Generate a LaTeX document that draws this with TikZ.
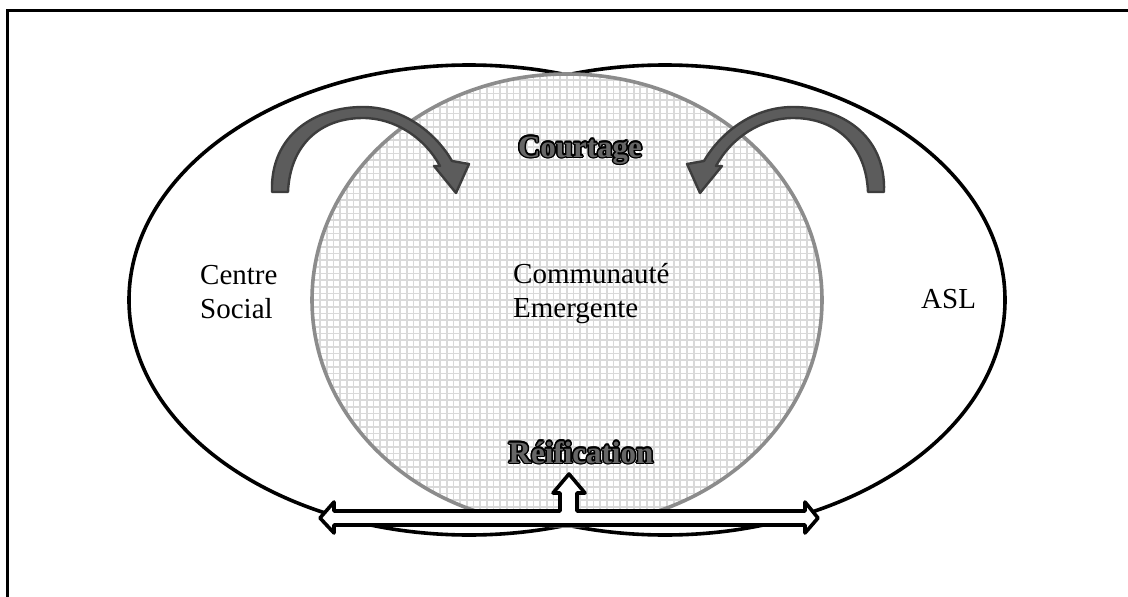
\documentclass[tikz,border=0pt]{standalone}
\usepackage{fontspec}
\setmainfont{Liberation Serif}
\usetikzlibrary{calc}
\definecolor{ringgrey}{gray}{0.55}
\definecolor{meshgrey}{gray}{0.85}
\definecolor{bendfill}{gray}{0.36}
\definecolor{bendedge}{gray}{0.24}
\definecolor{letterfill}{gray}{0.40}
\newcommand{\outlinelabel}[3]{
   \foreach \ang in {0,30,...,330}
      \node[outlined] at ($ (#2)+(\ang:1.5) $) {#3};
   \node[outlined, text=letterfill] (#1) at (#2) {#3};
}
\newcommand{\bentarrow}[1]{
   \begin{scope}[#1]
   \filldraw[bentshape] (272,192) .. controls (270,135) and (315,107) .. (363,107)
      .. controls (405,107) and (437,135) .. (452,161) -- (469,164) -- (456,193)
      -- (434,166) -- (440,166) .. controls (425,138) and (395,118) .. (363,118)
      .. controls (320,118) and (290,145) .. (288,192) -- cycle;
   \end{scope}
}

\begin{document}
\begin{tikzpicture}[x=1pt, y=-1pt,
   outerline/.style={draw=black, line width=3.6pt, fill=white},
   ringline/.style={draw=ringgrey, line width=3.6pt},
   gridline/.style={meshgrey, line width=1.7pt},
   bentshape/.style={fill=bendfill, draw=bendedge, line width=2.4pt, line join=round},
   blockshape/.style={draw=black, fill=white, line width=3.6pt, line join=round},
   plain/.style={font=\fontsize{29}{34}\selectfont, inner sep=0pt, align=left},
   outlined/.style={font=\fontsize{31}{35}\selectfont\bfseries, inner sep=0pt, anchor=base, text=black}]

		\useasboundingbox (0,0) rectangle (1128,597);

		% Frame
		\draw[line width=3pt] (7,597) -- (7,10) -- (1128,10);

		% Outer ellipses
		\draw[outerline] (469,300) circle [x radius = 340, y radius = 235];
		\draw[outerline] (665,300) circle [x radius = 340, y radius = 235];

		% Middle ellipse with mesh
		\begin{scope}
			\clip (567,300) circle [x radius = 255, y radius = 226];
			\fill[white] (300,540) rectangle (840,60);
			\draw[gridline, step=6.67pt] (300,540) grid (840,60);
		\end{scope}
		\draw[ringline] (567,300) circle [x radius = 255, y radius = 226];

		% Bent arrows
		\bentarrow{}
		\bentarrow{shift={(1156,0)}, xscale=-1}

		% Block arrow
		\filldraw[blockshape] (320,518) -- (334,502) -- (334,511) -- (560,511) -- (560,493)
			-- (553,493) -- (569,474) -- (585,493) -- (577,493) -- (577,511)
			-- (805,511) -- (805,502) -- (818,518) -- (805,533) -- (805,525)
			-- (334,525) -- (334,533) -- cycle;

		% Labels
		\node[plain, anchor=north west] (centre) at (200,265) {Centre\\Social};
		\node[plain, anchor=north west] (communaute) at (513,263) {Communauté\\Emergente};
		\node[plain, anchor=base west] (asl) at (921,308) {ASL};
		\outlinelabel{courtage}{580,157}{Courtage}
		\outlinelabel{reification}{581,463}{Réification}
	\end{tikzpicture}
\end{document}
